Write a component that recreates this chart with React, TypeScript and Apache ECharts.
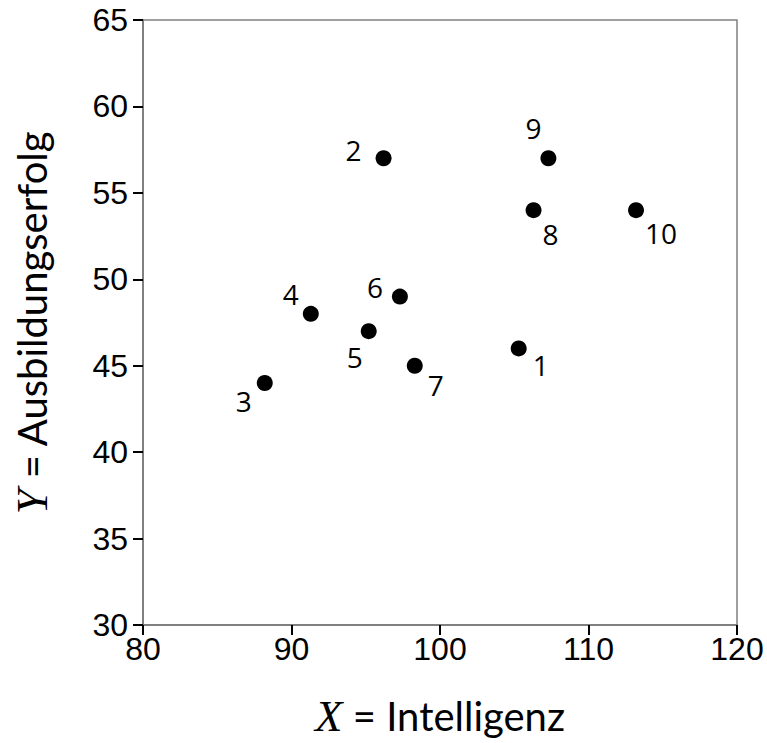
import React, { useEffect, useRef } from "react";
import * as echarts from "echarts";

const pointIds = ["1", "2", "3", "4", "5", "6", "7", "8", "9", "10"];
const xValues = [105.3, 96.2, 88.2, 91.3, 95.2, 97.3, 98.3, 106.3, 107.3, 113.2];
const yValues = [46, 57, 44, 48, 47, 49, 45, 54, 57, 54];
const xTicks = [80, 90, 100, 110, 120];
const yTicks = [30, 35, 40, 45, 50, 55, 60, 65];

// label offsets (px) relative to point center
const labelOffsets: [number, number][] = [
  [22, 17], [-30, -8], [-21, 18], [-20, -20], [-14, 26],
  [-25, -10], [21, 19], [17, 24], [-15, -30], [25, 23],
];

export default function App() {
  const ref = useRef<HTMLDivElement>(null);
  useEffect(() => {
    document.body.style.margin = "0";
    if (!ref.current) return;
    const chart = echarts.init(ref.current, null, { renderer: "svg" });
    const data = pointIds.map((id, i) => ({
      value: [xValues[i], yValues[i]],
      name: id,
      label: { offset: labelOffsets[i] },
    }));
    const titleRich = {
      i: { fontFamily: "Liberation Serif", fontStyle: "italic", fontSize: 45, color: "#000" },
      n: { fontFamily: "Lato", fontSize: 40, color: "#000" },
    };
    chart.setOption({
      animation: false,
      backgroundColor: "#fff",
      grid: {
        left: 143,
        right: 30,
        top: 20,
        bottom: 116,
        show: true,
        borderColor: "#808080",
        borderWidth: 1.5,
      },
      xAxis: {
        type: "value",
        min: xTicks[0],
        max: xTicks[xTicks.length - 1],
        interval: 10,
        splitLine: { show: false },
        axisLine: { show: true, lineStyle: { color: "#808080", width: 2 } },
        axisTick: { show: true, length: 10, lineStyle: { color: "#000", width: 2 } },
        axisLabel: {
          margin: 8,
          color: "#000",
          fontSize: 32,
          fontFamily: "Liberation Sans",
        },
        name: "{i|X}{n| = Intelligenz}",
        nameLocation: "middle",
        nameGap: 68,
        nameTextStyle: { rich: titleRich },
      },
      yAxis: {
        type: "value",
        min: yTicks[0],
        max: yTicks[yTicks.length - 1],
        interval: 5,
        splitLine: { show: false },
        axisLine: { show: true, lineStyle: { color: "#808080", width: 2 } },
        axisTick: { show: true, length: 10, lineStyle: { color: "#000", width: 2 } },
        axisLabel: {
          margin: 15,
          color: "#000",
          fontSize: 32,
          fontFamily: "Liberation Sans",
        },
        name: "{i|Y}{n| = Ausbildungserfolg}",
        nameLocation: "middle",
        nameGap: 89,
        nameTextStyle: { rich: titleRich },
      },
      series: [
        {
          type: "scatter",
          symbol: "circle",
          symbolSize: 16,
          itemStyle: { color: "#000", opacity: 1 },
          label: {
            show: true,
            position: "inside",
            formatter: "{b}",
            color: "#000",
            opacity: 1,
            fontSize: 28,
            fontFamily: "Open Sans",
            align: "center",
            verticalAlign: "middle",
          },
          data,
        },
      ],
    });
    return () => chart.dispose();
  }, []);
  return <div ref={ref} style={{ width: 767, height: 743 }} />;
}
